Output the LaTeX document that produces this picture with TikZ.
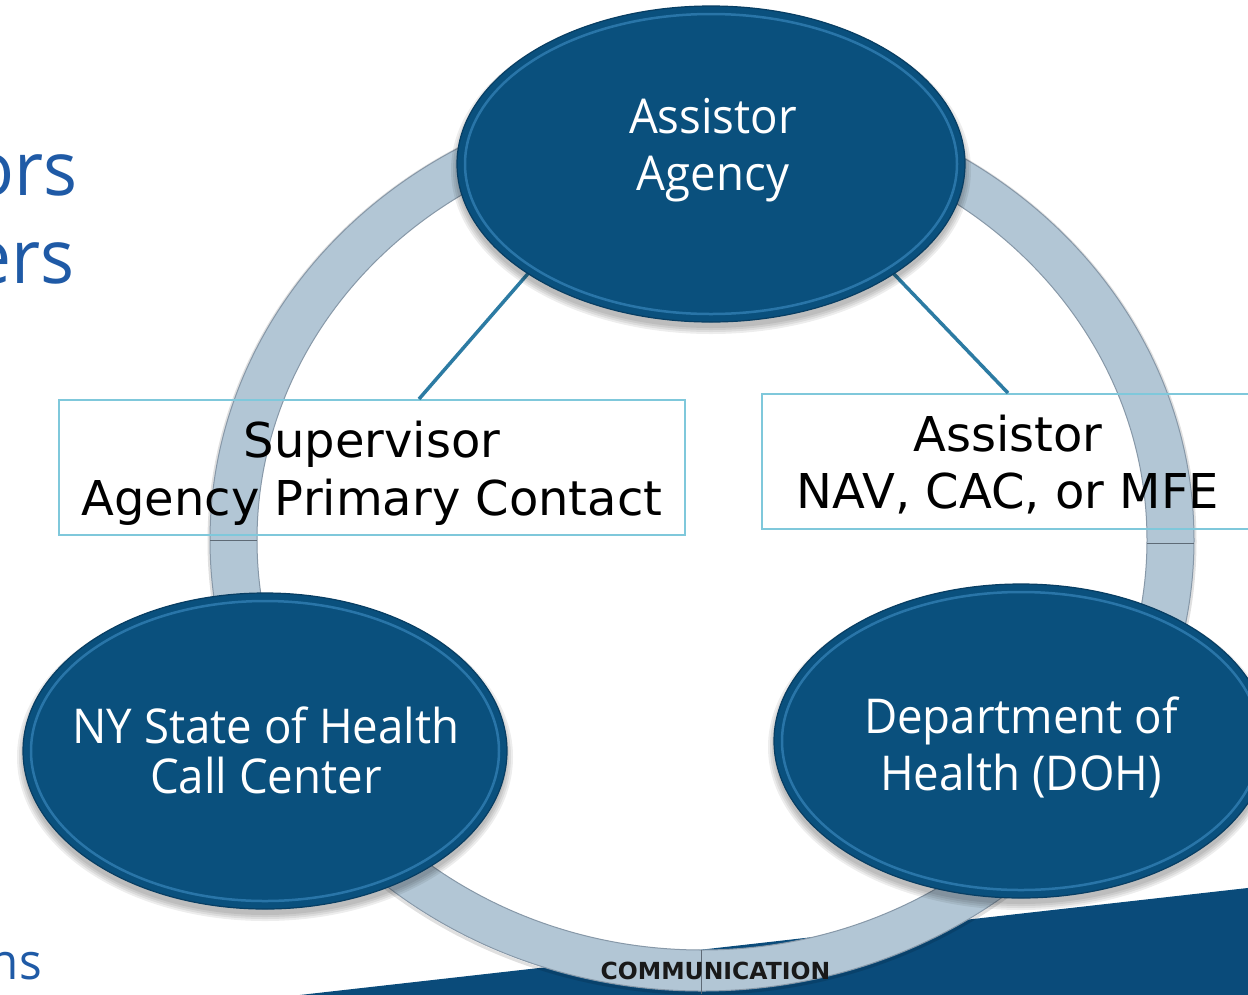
\documentclass[tikz,border=0pt]{standalone}
\usepackage{fontspec}
\usetikzlibrary{shapes.geometric}
\newfontfamily\segoe[FakeStretch=0.95]{Open Sans}
\newfontfamily\verd{DejaVu Sans}
\definecolor{ellblue}{HTML}{0A507D}
\definecolor{ellrim}{HTML}{3F8FC6}
\definecolor{elledge}{HTML}{083E63}
\definecolor{ringc}{HTML}{B2C6D5}
\definecolor{ringedge}{HTML}{8798A8}
\definecolor{boxc}{HTML}{7FC8DB}
\definecolor{connc}{HTML}{2C7BA3}
\definecolor{titleblue}{HTML}{1F5AA6}
\definecolor{bandblue}{HTML}{0A4B7A}
\begin{document}
\begin{tikzpicture}[x=1pt,y=-1pt,
  ell/.style={ellipse, fill=ellblue, draw=elledge, line width=1.2pt, inner sep=0pt},
  rim/.style={draw=ellrim, line width=2.5pt, opacity=0.6},
  shad/.style={fill=black, opacity=0.07},
  elltxt/.style={text=white, font=\segoe\fontsize{48}{58}\selectfont, inner sep=0pt, anchor=base},
  boxs/.style={rectangle, draw=boxc, line width=2pt, inner sep=0pt},
  boxtxt/.style={text=black, font=\verd\fontsize{48}{58}\selectfont, inner sep=0pt, anchor=base},
  side/.style={text=titleblue, inner sep=0pt, anchor=base east},
  conn/.style={draw=connc, line width=3.5pt},
  sepline/.style={draw=ringedge!70!black, line width=1pt}
]
\useasboundingbox (0,0) rectangle (1248,994);
\clip (0,0) rectangle (1248,994);
\fill[white] (0,0) rectangle (1248,994);
% background band
\fill[bandblue] (290,996.1) -- (1260,886.6) -- (1260,1000) -- (290,1000) -- cycle;
% side texts
\node[side, font=\segoe\fontsize{75}{80}\selectfont] (s1) at (78,195) {ors};
\node[side, font=\segoe\fontsize{75}{80}\selectfont] (s2) at (75,283) {ers};
\node[side, font=\segoe\fontsize{50}{60}\selectfont] (s3) at (42,979) {ns};
% ring
\draw[black, opacity=0.12, line width=3pt] (702,541.5) ellipse [x radius=493pt, y radius=452pt];
\fill[ringc, even odd rule] (702,540) ellipse [x radius=492pt, y radius=451pt] (702,540) ellipse [x radius=445pt, y radius=410pt];
\draw[ringedge, line width=1pt] (702,540) ellipse [x radius=492pt, y radius=451pt];
\draw[ringedge, line width=1pt] (702,540) ellipse [x radius=445pt, y radius=410pt];
\draw[sepline] (210,540) -- (257,540);
\draw[sepline] (1147,543) -- (1194,543);
\draw[sepline] (701,950) -- (701,994);
% boxes
\node[boxs, minimum width=626pt, minimum height=135pt] (bl) at (372,467.5) {};
\node[boxs, minimum width=492pt, minimum height=135pt] (br) at (1008,461.5) {};
\node[boxtxt] (bl1) at (372,457) {Supervisor};
\node[boxtxt] (bl2) at (372,515) {Agency Primary Contact};
\node[boxtxt] (br1) at (1008,451) {Assistor};
\node[boxtxt] (br2) at (1008,508) {NAV, CAC, or MFE};
% connectors
\coordinate (c1) at (532,269);
\coordinate (c2) at (893,273);
\coordinate (e1) at (419,399);
\coordinate (e2) at (1008,393);
\draw[conn] (c1) -- (e1);
\draw[conn] (c2) -- (e2);
% ellipses
\foreach \k in {0,2,4,6}{
  \fill[shad] (711,170) ellipse [x radius=254pt+\k pt, y radius=158pt+\k pt];
  \fill[shad] (265,757) ellipse [x radius=242pt+\k pt, y radius=158pt+\k pt];
  \fill[shad] (1021,747) ellipse [x radius=247pt+\k pt, y radius=157pt+\k pt];
}
\node[ell, minimum width=508pt, minimum height=316pt] (ea) at (711,164) {};
\node[ell, minimum width=484pt, minimum height=316pt] (eb) at (265,751) {};
\node[ell, minimum width=494pt, minimum height=314pt] (ec) at (1021,741) {};
\draw[rim] (ea.center) ellipse [x radius=246pt, y radius=150pt];
\draw[rim] (eb.center) ellipse [x radius=234pt, y radius=150pt];
\draw[rim] (ec.center) ellipse [x radius=239pt, y radius=149pt];
\node[elltxt] (ea1) at (713,133) {Assistor};
\node[elltxt] (ea2) at (713,190) {Agency};
\node[elltxt] (eb1) at (266,743) {NY State of Health};
\node[elltxt] (eb2) at (266,793) {Call Center};
\node[elltxt] (ec1) at (1021,733) {Department of};
\node[elltxt] (ec2) at (1021,790) {Health (DOH)};
% label
\node[font=\verd\bfseries\fontsize{23.5}{28}\selectfont, text=black!90, anchor=base, inner sep=0pt] (comm) at (715.5,979) {COMMUNICATION};
\end{tikzpicture}
\end{document}
